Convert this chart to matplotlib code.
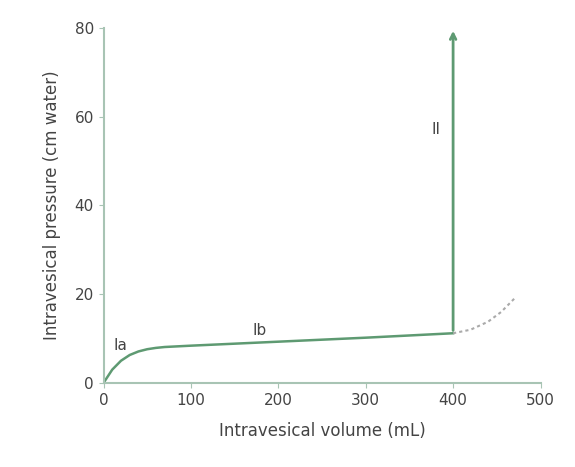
import numpy as np
import matplotlib.pyplot as plt

# filling curve
vol = [0, 5, 10, 20, 30, 40, 50, 60, 70, 100, 200, 300, 400]
pres = [0, 1.5, 3.0, 5.0, 6.3, 7.1, 7.6, 7.9, 8.1, 8.4, 9.3, 10.2, 11.2]
over_vol = [400, 420, 440, 455, 470]
over_pres = [11.2, 12.0, 13.8, 16.0, 19.0]
void_x = 400
void_top = 80

green = '#5e9a72'
axcol = '#a8c4b4'

fig, ax = plt.subplots(figsize=(5.75, 4.67), dpi=100)
fig.subplots_adjust(left=0.18, right=0.94, bottom=0.18, top=0.94)

ax.plot(vol, pres, color=green, lw=1.8)
ax.plot(over_vol, over_pres, color='#aaaaaa', lw=1.5, ls=(0, (1.5, 1.5)))
ax.annotate('', xy=(void_x, void_top), xytext=(void_x, pres[-1]),
            arrowprops=dict(arrowstyle='->', color=green, lw=2))

ax.text(12, 7.5, 'Ia', fontsize=11, color='#444444')
ax.text(170, 10.8, 'Ib', fontsize=11, color='#444444')
ax.text(375, 56, 'II', fontsize=11, color='#444444')

ax.set_xlim(0, 500)
ax.set_ylim(0, 80)
ax.set_xticks([0, 100, 200, 300, 400, 500])
ax.set_yticks([0, 20, 40, 60, 80])
for s in ['top', 'right']:
    ax.spines[s].set_visible(False)
for s in ['left', 'bottom']:
    ax.spines[s].set_color(axcol)
    ax.spines[s].set_linewidth(1.5)
ax.tick_params(colors='#444444', labelsize=11, color=axcol)
ax.set_xlabel('Intravesical volume (mL)', fontsize=12, color='#444444', labelpad=10)
ax.set_ylabel('Intravesical pressure (cm water)', fontsize=12, color='#444444', labelpad=10)

plt.savefig('out.png')
plt.close()
